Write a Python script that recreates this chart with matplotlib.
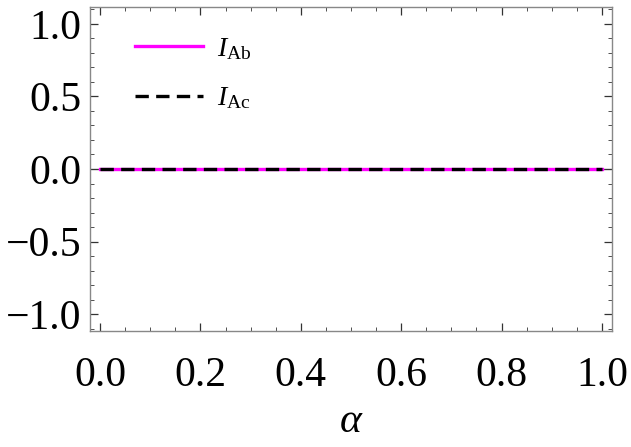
import matplotlib.pyplot as plt
from matplotlib.ticker import MultipleLocator

# data: both quantities vanish over the whole range
alpha = [0.0, 0.25, 0.5, 0.75, 1.0]
I_Ab = [0.0, 0.0, 0.0, 0.0, 0.0]
I_Ac = [0.0, 0.0, 0.0, 0.0, 0.0]

plt.rcParams['font.family'] = 'Liberation Serif'
plt.rcParams['mathtext.fontset'] = 'custom'
plt.rcParams['mathtext.rm'] = 'Liberation Serif'
plt.rcParams['mathtext.it'] = 'Liberation Serif:italic'

fig = plt.figure(figsize=(6.31, 4.47), dpi=100)
ax = fig.add_axes([90 / 631, 1 - 331 / 447, 522 / 631, 324 / 447])

# y = 0 axis line (Mathematica style)
ax.axhline(0, color='#555555', lw=0.8, zorder=1)

ax.plot(alpha, I_Ab, color='#ff00ff', lw=2.4, label=r'$I_{\mathrm{Ab}}$', zorder=2)
ax.plot(alpha, I_Ac, color='black', lw=2.4, dashes=(4.0, 2.2), label=r'$I_{\mathrm{Ac}}$', zorder=3)

ax.set_xlim(-0.02, 1.02)
ax.set_ylim(-1.117, 1.117)
ax.xaxis.set_major_locator(MultipleLocator(0.2))
ax.xaxis.set_minor_locator(MultipleLocator(0.05))
ax.yaxis.set_major_locator(MultipleLocator(0.5))
ax.yaxis.set_minor_locator(MultipleLocator(0.1))
ax.xaxis.set_major_formatter(plt.FuncFormatter(lambda v, p: f'{v:.1f}'))
ax.yaxis.set_major_formatter(plt.FuncFormatter(lambda v, p: f'{v:.1f}'.replace('-', '\u2212')))

ax.tick_params(which='both', direction='in', top=True, right=True, color='#333333')
ax.tick_params(which='major', length=6, width=0.9, labelsize=30)
ax.tick_params(axis='x', which='major', pad=18)
ax.tick_params(axis='y', which='major', pad=6)
ax.tick_params(which='minor', length=3, width=0.6)
for s in ax.spines.values():
    s.set_color('#888888')
    s.set_linewidth(1.0)

ax.set_xlabel(r'$\alpha$', fontsize=30, labelpad=6)

ax.legend(loc='upper left', frameon=False, fontsize=20, handlelength=2.45,
          handletextpad=0.5, labelspacing=0.85, borderpad=0, borderaxespad=0,
          bbox_to_anchor=(0.086, 0.91))

fig.savefig('out.png', dpi=100)
